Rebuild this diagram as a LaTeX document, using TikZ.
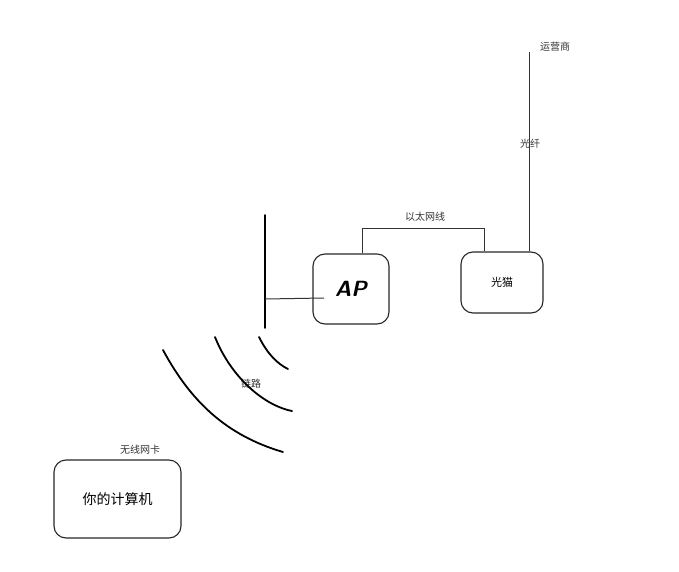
\documentclass[tikz,border=0pt]{standalone}
\usepackage{fontspec}
\newfontfamily\cjk{Noto Sans CJK SC}
\begin{document}
\begin{tikzpicture}[x=1pt,y=-1pt,
  box/.style={draw=black!85,line width=1.1pt,rounded corners=12pt,inner sep=0pt},
  thin/.style={draw=black!80,line width=0.8pt},
  thick/.style={draw=black,line width=1.8pt,line cap=round},
  lbl/.style={font=\cjk\fontsize{10}{12}\selectfont,text=black!80,inner sep=1pt}]
\useasboundingbox (0,0) rectangle (679,572);
% boxes
\node[box,minimum width=76pt,minimum height=70pt] (ap) at (351,289)
  {\fontsize{22}{22}\selectfont\sffamily\bfseries\itshape AP};
\node[box,minimum width=82pt,minimum height=61pt] (modem) at (502,282.5)
  {\cjk\fontsize{11}{12}\selectfont 光猫};
\node[box,minimum width=127pt,minimum height=78pt] (pc) at (117.5,499)
  {\cjk\fontsize{14}{16}\selectfont 你的计算机};
% labels
\node[lbl] (nic) at (140,450) {无线网卡};
\node[lbl] (eth) at (425,217) {以太网线};
\node[lbl] (isp) at (555,47) {运营商};
\node[lbl] (fib) at (530,144) {光纤};
\node[lbl] (link) at (251,384) {链路};
% ethernet
\coordinate (e1) at (362,228);
\coordinate (e2) at (484,228);
\draw[thin] (ap.north -| e1) -- (e1) -- (e2) -- (modem.north -| e2);
% fibre
\coordinate (f) at (529,52);
\draw[thin] (modem.north -| f) -- (f);
% antenna
\coordinate (a1) at (265,215);
\coordinate (a2) at (265,328);
\coordinate (a3) at (265,299);
\coordinate (a4) at (324,298);
\draw[thick] (a1) -- (a2);
\draw[thin,line width=1pt] (a3) -- (a4);
% waves
\draw[thick] (259,337) .. controls (268,355) and (278,364) .. (288,369);
\draw[thick] (215,337) .. controls (230,375) and (262,405) .. (292,411);
\draw[thick] (163,350) .. controls (190,400) and (225,435) .. (283,452);
\end{tikzpicture}
\end{document}
